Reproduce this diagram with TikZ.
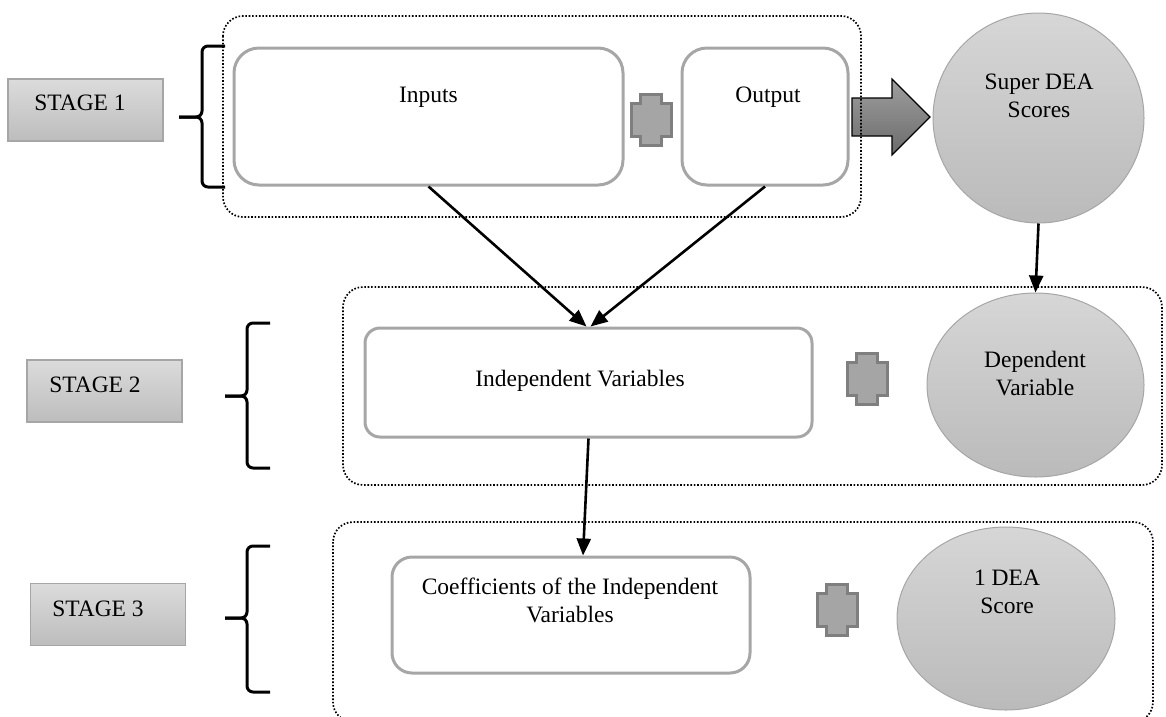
\documentclass[tikz,border=0pt]{standalone}
\usepackage{fontspec}
\setmainfont{Liberation Serif}
\usetikzlibrary{shapes.geometric,arrows.meta}

\definecolor{edgegray}{HTML}{A6A6A6}
\definecolor{plusfill}{HTML}{A5A5A5}
\definecolor{plusedge}{HTML}{7F7F7F}

\tikzset{
  every node/.style={font=\fontsize{23.5}{28}\selectfont},
  txt/.style={align=center, inner sep=0pt},
  stagebox/.style={rectangle, draw=edgegray, line width=1.5pt,
    top color=black!14, bottom color=black!26, minimum width=155pt, minimum height=62pt},
  whitebox/.style={rectangle, draw=edgegray, line width=3pt, fill=white, rounded corners=25pt},
  disc/.style={ellipse, draw=edgegray, line width=1pt, top color=black!16, bottom color=black!27, inner sep=0pt},
  group/.style={draw=black, line width=1.7pt, dash pattern=on 1.6pt off 1.8pt, rounded corners=20pt},
  conn/.style={draw=black, line width=2.6pt, -{Triangle[length=17pt,width=14pt]}},
  bracket/.style={draw=black, line width=3pt, rounded corners=6pt},
  addsign/.pic={
    \draw[fill=plusfill, draw=plusedge, line width=3pt]
      (-10.5,-25.5) -- (10.5,-25.5) -- (10.5,-16.5) -- (20,-16.5) -- (20,16.5)
      -- (10.5,16.5) -- (10.5,25.5) -- (-10.5,25.5) -- (-10.5,16.5) -- (-20,16.5)
      -- (-20,-16.5) -- (-10.5,-16.5) -- cycle;
  }
}

\begin{document}
\begin{tikzpicture}[x=1pt,y=-1pt]
\useasboundingbox (0,0) rectangle (1166,716);
\clip (0,0) rectangle (1166,716);

% stage labels
\node[stagebox] (s1) at (85.5,110) {};
\node[txt] (s1t) at (80,102.5) {STAGE 1};
\node[stagebox] (s2) at (104.5,391) {};
\node[txt] (s2t) at (95,384.5) {STAGE 2};
\node[stagebox] (s3) at (108,614.5) {};
\node[txt] (s3t) at (98,608.5) {STAGE 3};

% brackets
\draw[bracket] (225,46) -- (202,46) -- (202,117) -- (179,117);
\draw[bracket] (179,117) -- (202,117) -- (202,187) -- (225,187);
\draw[bracket] (270,323) -- (247,323) -- (247,396) -- (225,396);
\draw[bracket] (225,396) -- (247,396) -- (247,468) -- (270,468);
\draw[bracket] (270,546) -- (247,546) -- (247,618) -- (225,618);
\draw[bracket] (225,618) -- (247,618) -- (247,692) -- (270,692);

% stage 1
\node[whitebox, minimum width=389pt, minimum height=137pt] (inputs) at (428.5,116.5) {};
\node[txt] (inputst) at (428.5,97) {Inputs};
\node[whitebox, minimum width=166pt, minimum height=137pt] (output) at (765,116.5) {};
\node[txt] (outputt) at (768,97) {Output};
\pic at (651,119.5) {addsign};

% block arrow towards the score disc
\path[draw=black, line width=1.2pt, top color=black!38, bottom color=black!58]
  (852,98) -- (892,98) -- (892,79) -- (930,117) -- (892,155) -- (892,136) -- (852,136) -- cycle;

\node[disc, minimum width=211pt, minimum height=210pt] (c1) at (1038.5,118) {};
\node[txt] (c1t) at (1039,96) {Super DEA\\Scores};

% stage 2
\node[whitebox, rounded corners=15pt, minimum width=447pt, minimum height=109pt] (indep) at (588.5,382.5) {};
\node[txt] (indept) at (580,381) {Independent Variables};
\pic at (867,378.5) {addsign};
\node[disc, minimum width=217pt, minimum height=184pt] (c2) at (1035.5,385) {};
\node[txt] (c2t) at (1035,373.5) {Dependent\\Variable};

% stage 3
\node[whitebox, rounded corners=20pt, minimum width=358pt, minimum height=116pt] (coef) at (571,615) {};
\node[txt] (coeft) at (570,600) {Coefficients of the Independent\\Variables};
\pic at (837,609.5) {addsign};
\node[disc, minimum width=218pt, minimum height=183pt] (c3) at (1006,618.5) {};
\node[txt] (c3t) at (1007,592) {1 DEA\\Score};

% dotted stage frames
\draw[group] (223,16) rectangle (861,217);
\draw[group] (343,287) rectangle (1162,485);
\draw[group] (333,522) rectangle (1153,722);

% connectors
\draw[conn] (inputs.south) -- ([xshift=-2pt]indep.north);
\draw[conn] (output.south) -- ([xshift=2pt]indep.north);
\draw[conn] (c1.south) -- (c2.north);
\draw[conn] (indep.south) -- ([xshift=12pt]coef.north);
\end{tikzpicture}
\end{document}
